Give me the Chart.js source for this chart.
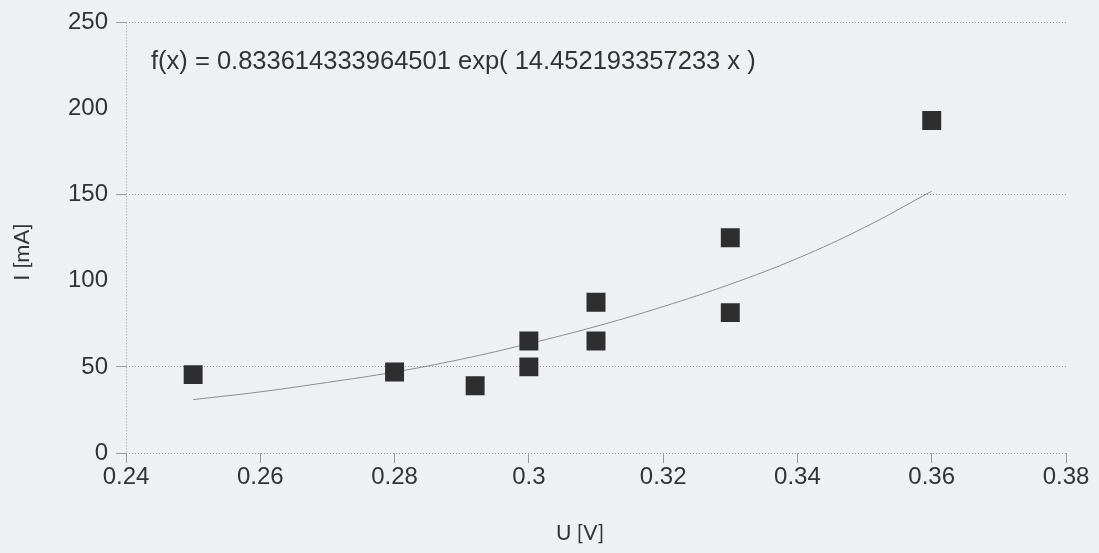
<!DOCTYPE html>
<html>
<head>
<meta charset="utf-8">
<script src="https://cdn.jsdelivr.net/npm/chart.js@4/dist/chart.umd.min.js"></script>
<style>
  html, body { margin: 0; padding: 0; background: #eef0f4; }
  #wrap { width: 1099px; height: 553px; }
</style>
</head>
<body>
<div id="wrap"><canvas id="chart" width="1099" height="553"></canvas></div>
<script>
// measured points, U [V] / I [mA]
const voltage = [0.25, 0.28, 0.292, 0.30, 0.30, 0.31, 0.31, 0.33, 0.33, 0.36];
const current = [45.5, 47, 39, 50, 65, 87.5, 65, 125, 81.5, 193];

// trend line
const trendU = [0.25, 0.26, 0.27, 0.28, 0.29, 0.30, 0.31, 0.32, 0.33, 0.34, 0.35, 0.36];
const trendI = [31, 35.5, 41, 47, 54.5, 63.5, 73.5, 85, 98, 113, 131, 152];

const xTicks = [0.24, 0.26, 0.28, 0.3, 0.32, 0.34, 0.36, 0.38];
const yTicks = [0, 50, 100, 150, 200, 250];
const yGridShown = [0, 50, 150, 250];

const equation = 'f(x) = 0.833614333964501 exp( 14.452193357233 x )';
const xTitle = 'U [V]';
const yTitle = 'I [mA]';

const textColor = '#333333';
const gridColor = '#9a9a9a';
const fontFamily = '"Liberation Sans", Arial, sans-serif';
const titleFamily = 'Lato, "Open Sans", sans-serif';

// equation and axis titles, placed like in the original sheet
const chartTexts = {
    id: 'chartTexts',
    afterDatasetsDraw(chart) {
        const ctx = chart.ctx;
        ctx.save();
        ctx.fillStyle = textColor;
        ctx.textBaseline = 'middle';

        ctx.font = '25.5px ' + fontFamily;
        ctx.textAlign = 'left';
        ctx.fillText(equation, 151, 62);

        ctx.font = '21px ' + titleFamily;
        ctx.textAlign = 'center';
        ctx.fillText(xTitle, 580, 533);

        ctx.font = '22px ' + titleFamily;
        ctx.translate(22, 252);
        ctx.rotate(-Math.PI / 2);
        ctx.fillText(yTitle, 0, 0);
        ctx.restore();
    }
};

new Chart(document.getElementById('chart'), {
    type: 'scatter',
    data: {
        datasets: [
            {
                label: 'Messwerte',
                data: voltage.map((u, i) => ({ x: u, y: current[i] })),
                pointStyle: 'rect',
                pointRadius: 13.4,
                pointHoverRadius: 13.4,
                pointBorderWidth: 0,
                backgroundColor: '#2e2e2e',
                borderColor: '#2e2e2e',
                order: 1,
            },
            {
                label: 'Trend',
                type: 'line',
                data: trendU.map((u, i) => ({ x: u, y: trendI[i] })),
                borderColor: '#8c8c8c',
                borderWidth: 1,
                pointRadius: 0,
                tension: 0.4,
                fill: false,
                order: 2,
            },
        ],
    },
    options: {
        responsive: false,
        animation: false,
        layout: { padding: { top: 21, right: 33, left: 0, bottom: 0 } },
        plugins: {
            legend: { display: false },
            tooltip: { enabled: false },
        },
        scales: {
            x: {
                type: 'linear',
                min: 0.24,
                max: 0.38,
                afterBuildTicks: s => { s.ticks = xTicks.map(v => ({ value: v })); },
                afterFit: s => { s.height = 100; },
                ticks: {
                    color: textColor,
                    font: { family: fontFamily, size: 24 },
                    padding: 0,
                    maxRotation: 0,
                    callback: v => String(Math.round(v * 100) / 100),
                },
                grid: {
                    color: c => (c.index === 0 ? gridColor : 'transparent'),
                    tickColor: gridColor,
                    tickLength: 10,
                    lineWidth: 1,
                },
                border: { display: false, dash: [1, 2] },
            },
            y: {
                type: 'linear',
                min: 0,
                max: 250,
                afterBuildTicks: s => { s.ticks = yTicks.map(v => ({ value: v })); },
                afterFit: s => { s.width = 126; },
                ticks: {
                    color: textColor,
                    font: { family: fontFamily, size: 24 },
                    padding: 8,
                },
                grid: {
                    color: c => (c.tick && yGridShown.includes(c.tick.value) ? gridColor : 'transparent'),
                    tickColor: c => (c.tick && yGridShown.includes(c.tick.value) ? gridColor : 'transparent'),
                    tickLength: 10,
                    lineWidth: 1,
                },
                border: { display: false, dash: [1, 2] },
            },
        },
    },
    plugins: [chartTexts],
});
</script>
</body>
</html>
